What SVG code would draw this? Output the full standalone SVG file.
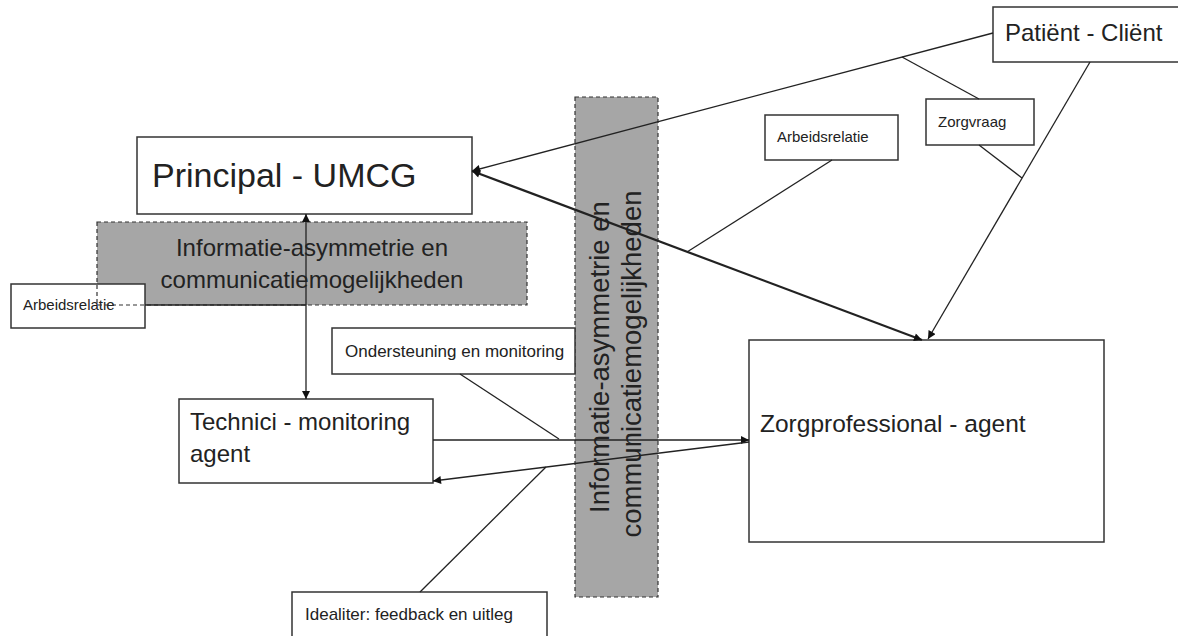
<svg xmlns="http://www.w3.org/2000/svg" width="1178" height="636" viewBox="0 0 1178 636">
<defs>
<style>
.box{fill:#fff;stroke:#333;stroke-width:1.5}
.gray{fill:#a6a6a6;stroke:none}
.gborder{fill:none;stroke:#333;stroke-width:1.2;stroke-dasharray:4 3}
.t{font-family:"Liberation Sans",Arial,sans-serif;fill:#222}
.ln{stroke:#222;stroke-width:1.3;fill:none}
.thick{stroke:#222;stroke-width:2.2;fill:none}
</style>
<marker id="ah" viewBox="0 0 10 10" refX="10" refY="5" markerWidth="9" markerHeight="8" markerUnits="userSpaceOnUse" orient="auto-start-reverse">
<path d="M0,0 L10,5 L0,10 z" fill="#111"/>
</marker>
</defs>
<rect width="1178" height="636" fill="#fff"/>

<g id="gray-horizontal">
<rect class="gray" x="97" y="222" width="430" height="83"/>
<text class="t" x="312" y="256" font-size="24" text-anchor="middle">Informatie-asymmetrie en</text>
<text class="t" x="312" y="288" font-size="24" text-anchor="middle">communicatiemogelijkheden</text>
</g>

<g id="gray-vertical">
<rect class="gray" x="575" y="97" width="83" height="500"/>
<rect class="gborder" x="575" y="97" width="83" height="500"/>
<text class="t" font-size="27.5" text-anchor="middle" transform="translate(609,357) rotate(-90)">Informatie-asymmetrie en</text>
<text class="t" font-size="27.5" text-anchor="middle" transform="translate(641,364) rotate(-90)">communicatiemogelijkheden</text>
</g>

<g id="principal">
<rect class="box" x="137" y="137" width="335" height="77"/>
<text class="t" x="152" y="187" font-size="34">Principal - UMCG</text>
</g>

<g id="patient">
<rect class="box" x="993" y="7" width="200" height="55"/>
<text class="t" x="1005" y="41" font-size="24">Patiënt - Cliënt</text>
</g>

<g id="zorgprofessional">
<rect class="box" x="749" y="340" width="355" height="202"/>
<text class="t" x="760" y="432" font-size="24.5">Zorgprofessional - agent</text>
</g>

<g id="technici">
<rect class="box" x="179" y="399" width="254" height="84"/>
<text class="t" x="190" y="430" font-size="24">Technici - monitoring</text>
<text class="t" x="190" y="462" font-size="24">agent</text>
</g>

<g id="arbeidsrelatie-left">
<rect class="box" x="11" y="284" width="134" height="44"/>
<text class="t" x="23" y="310" font-size="15">Arbeidsrelatie</text>
</g>

<g id="gray-horizontal-border">
<rect class="gborder" x="97" y="222" width="430" height="83"/>
</g>

<g id="arbeidsrelatie-right">
<rect class="box" x="765" y="115" width="133" height="45"/>
<text class="t" x="777" y="142" font-size="15">Arbeidsrelatie</text>
</g>

<g id="zorgvraag">
<rect class="box" x="926" y="99" width="108" height="46"/>
<text class="t" x="938" y="127" font-size="15">Zorgvraag</text>
</g>

<g id="ondersteuning">
<rect class="box" x="332" y="328" width="243" height="46"/>
<text class="t" x="345" y="357" font-size="17">Ondersteuning en monitoring</text>
</g>

<g id="idealiter">
<rect class="box" x="292" y="592" width="255" height="60"/>
<text class="t" x="305" y="620" font-size="17">Idealiter: feedback en uitleg</text>
</g>

<g id="connectors">
<line class="ln" x1="993" y1="33" x2="472" y2="171" marker-end="url(#ah)"/>
<line class="thick" x1="472" y1="171" x2="922" y2="340" marker-start="url(#ah)" marker-end="url(#ah)"/>
<line class="ln" x1="1090" y1="62" x2="928" y2="339" marker-end="url(#ah)"/>
<line class="ln" x1="902" y1="57" x2="979" y2="99"/>
<line class="ln" x1="979" y1="145" x2="1022" y2="178"/>
<line class="ln" x1="832" y1="160" x2="687" y2="252"/>
<line class="ln" x1="306" y1="214" x2="306" y2="399" marker-start="url(#ah)" marker-end="url(#ah)"/>
<line class="ln" x1="145" y1="305" x2="306" y2="305"/>
<line class="ln" x1="433" y1="440" x2="749" y2="440" marker-end="url(#ah)"/>
<line class="ln" x1="749" y1="442" x2="433" y2="481" marker-end="url(#ah)"/>
<line class="ln" x1="460" y1="374" x2="559" y2="439"/>
<line class="ln" x1="420" y1="592" x2="546" y2="467"/>
</g>
</svg>
